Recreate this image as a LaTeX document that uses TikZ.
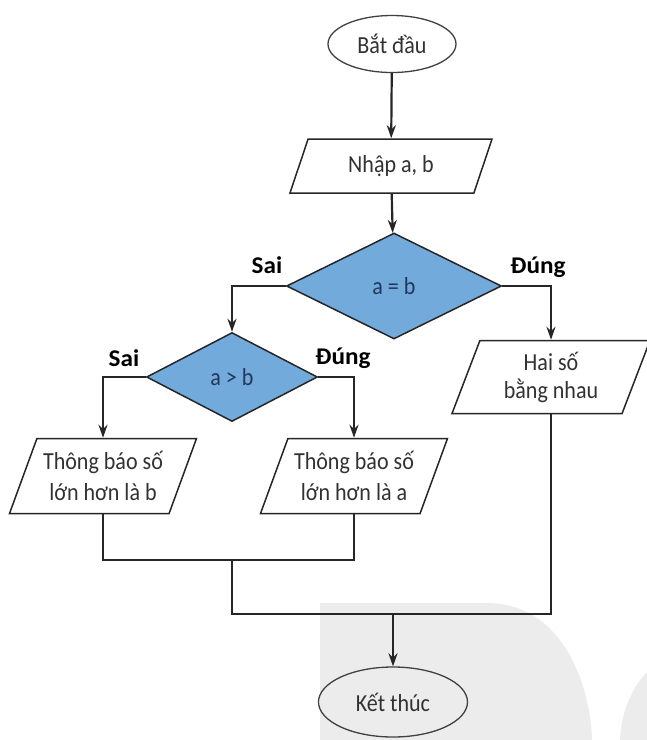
\documentclass[tikz,border=0pt]{standalone}
\usepackage{fontspec}
\setmainfont{Carlito}[FakeStretch=0.9]
\newfontfamily\branchfont{Carlito}[FakeStretch=1.05]
\usetikzlibrary{shapes.geometric,arrows.meta}
\definecolor{dfill}{RGB}{115,170,220}
\definecolor{dtext}{RGB}{50,50,50}
\definecolor{qtext}{RGB}{35,55,90}
\definecolor{wmark}{RGB}{236,236,236}
\begin{document}
\begin{tikzpicture}[x=1pt,y=-1pt,
    font=\fontsize{24.5}{28}\selectfont,
    terminal/.style={ellipse, draw=black!75, line width=1.3pt, text=dtext},
    io/.style={trapezium, trapezium left angle=64, trapezium right angle=116,
        trapezium stretches body, draw=black!85, line width=1.5pt, fill=white,
        text=dtext, align=center, inner xsep=-10pt},
    decision/.style={diamond, draw=black!85, line width=1.5pt, fill=dfill,
        text=qtext, inner sep=0pt},
    branch/.style={font=\fontsize{24}{28}\branchfont\bfseries},
    flow/.style={line width=2.2pt, draw=black!85},
    arrow/.style={flow, -{Stealth[length=13pt,width=9pt]}}]
        \useasboundingbox (0,0) rectangle (647,740);

        % watermark
        \fill[wmark] (320,603) -- (487,603) .. controls (560,603) and (590,680) .. (592,740) -- (320,740) -- cycle;
        \fill[wmark] (647,672) .. controls (630,690) and (621,715) .. (620,740) -- (647,740) -- cycle;

        % terminals
        \node[terminal, minimum width=128pt, minimum height=57pt] (start) at (392,44) {Bắt đầu};
        \node[terminal, minimum width=149pt, minimum height=70pt] (stop) at (393,702) {Kết thúc};

        % input
        \node[io, minimum width=202pt, minimum height=54pt, trapezium left angle=57, trapezium right angle=123] (input) at (391,166) {Nhập a, b};

        % decisions
        \node[decision, minimum width=215pt, minimum height=106pt] (eq) at (394,286) {a = b};
        \node[decision, minimum width=171pt, minimum height=89pt] (gt) at (232,377) {a > b};

        % outputs
        \node[io, minimum width=187pt, minimum height=75pt] (outb) at (103,476) {Thông báo số\\[3pt]lớn hơn là b};
        \node[io, minimum width=187pt, minimum height=75pt] (outa) at (354,476) {Thông báo số\\[3pt]lớn hơn là a};
        \node[io, minimum width=198pt, minimum height=73pt] (same) at (551,377) {Hai số\\bằng nhau};

        % branch labels
        \node[branch] (no1) at (267,265) {Sai};
        \node[branch] (yes1) at (538,267) {Đúng};
        \node[branch] (no2) at (124,358) {Sai};
        \node[branch] (yes2) at (343,358) {Đúng};

        % flow
        \draw[arrow] (start) -- (input);
        \draw[arrow] (input) -- (eq);
        \draw[arrow] (eq.west) -| (gt.north);
        \draw[arrow] (eq.east) -| (same.north);
        \draw[arrow] (gt.west) -| (outb.north);
        \draw[arrow] (gt.east) -| (outa.north);

        % join
        \coordinate (m1) at (232,560);
        \coordinate (m2) at (393,614);
        \draw[flow] (outb.south) |- (m1 -| outa.south) -- (outa.south);
        \draw[flow] (m1) |- (m2 -| same.south) -- (same.south);
        \draw[arrow] (m2) -- (stop);
    \end{tikzpicture}
\end{document}
